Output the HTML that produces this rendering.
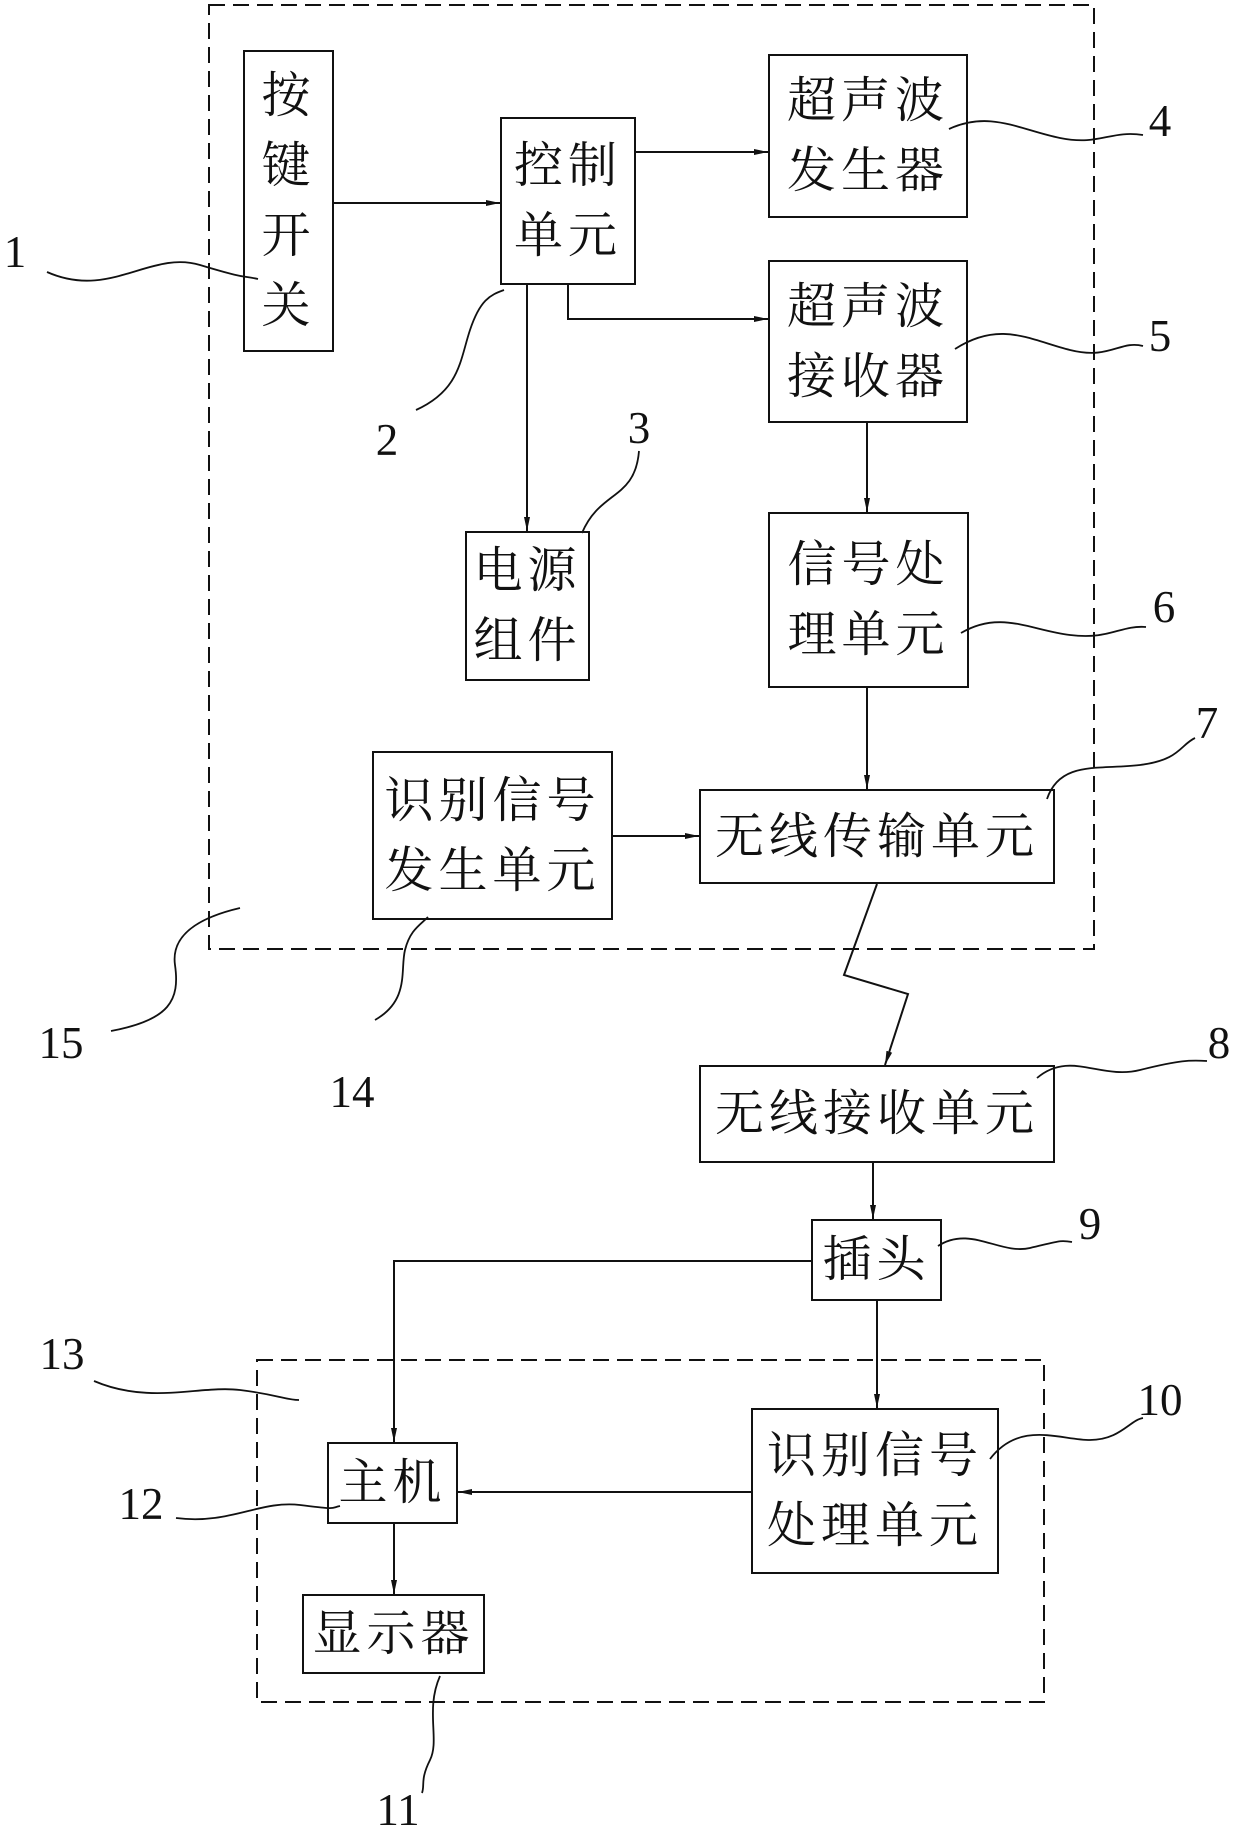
<!DOCTYPE html>
<html><head><meta charset="utf-8"><style>
body{margin:0;background:#fff;width:1240px;height:1834px;position:relative;overflow:hidden}
.b{position:absolute;border:2px solid #111;box-sizing:border-box;display:flex;align-items:center;justify-content:center;text-align:center;font-family:"Liberation Serif","Noto Serif CJK SC",serif;font-size:49px;line-height:70px;letter-spacing:5px;color:#111}
.n{position:absolute;font-family:"Liberation Serif",serif;font-size:45px;color:#111;transform:translate(-50%,-50%)}
svg{position:absolute;left:0;top:0}
</style></head><body>
<svg width="1240" height="1834" fill="none" stroke="#111" stroke-width="2">
<defs><marker id="a" markerWidth="14" markerHeight="8" refX="14" refY="4" orient="auto" markerUnits="userSpaceOnUse"><path d="M0,1 L14,4 L0,7 Z" fill="#111" stroke="none"/></marker></defs>
<rect x="209" y="5" width="885" height="944" stroke-dasharray="16,8"/>
<rect x="257" y="1360" width="787" height="342" stroke-dasharray="16,8"/>
<path d="M334,203 H500" marker-end="url(#a)"/>
<path d="M636,152 H768" marker-end="url(#a)"/>
<path d="M568,285 V319 H768" marker-end="url(#a)"/>
<path d="M527,285 V531" marker-end="url(#a)"/>
<path d="M867,423 V512" marker-end="url(#a)"/>
<path d="M867,688 V789" marker-end="url(#a)"/>
<path d="M613,836 H699" marker-end="url(#a)"/>
<path d="M877,884 L844,975 L908,994 L885,1065" marker-end="url(#a)"/>
<path d="M873,1163 V1219" marker-end="url(#a)"/>
<path d="M811,1261 H394 V1442" marker-end="url(#a)"/>
<path d="M877,1301 V1408" marker-end="url(#a)"/>
<path d="M751,1492 H458" marker-end="url(#a)"/>
<path d="M394,1524 V1594" marker-end="url(#a)"/>
<g stroke-width="1.8">
<path d="M47,272 C110,300 150,250 200,265 S240,275 258,279"/>
<path d="M416,410 C460,390 460,360 470,330 S490,295 504,290"/>
<path d="M639,451 C635,500 600,490 582,533"/>
<path d="M949,129 C990,110 1020,130 1060,138 S1110,130 1143,135"/>
<path d="M955,349 C1000,320 1030,340 1070,350 S1120,340 1143,346"/>
<path d="M961,633 C1000,610 1030,630 1070,635 S1120,625 1146,627"/>
<path d="M1047,799 C1060,760 1100,770 1140,765 S1180,745 1195,738"/>
<path d="M1037,1078 C1070,1050 1100,1080 1140,1070 S1190,1060 1207,1061"/>
<path d="M938,1246 C970,1225 1000,1255 1030,1248 S1060,1240 1072,1242"/>
<path d="M990,1459 C1020,1420 1060,1440 1090,1440 S1130,1420 1143,1418"/>
<path d="M440,1676 C425,1710 440,1740 430,1760 S425,1785 422,1793"/>
<path d="M176,1518 C230,1525 260,1500 300,1505 S330,1508 340,1506"/>
<path d="M94,1381 C150,1405 200,1385 240,1390 S285,1400 299,1400"/>
<path d="M375,1020 C410,1000 400,970 405,950 S420,925 428,917"/>
<path d="M111,1031 C170,1020 180,1000 175,965 S210,915 240,908"/>
</g>
</svg>
<div class="b" style="left:243px;top:50px;width:91px;height:302px;line-height:70px">按<br>键<br>开<br>关</div>
<div class="b" style="left:500px;top:117px;width:136px;height:168px">控制<br>单元</div>
<div class="b" style="left:768px;top:54px;width:200px;height:164px">超声波<br>发生器</div>
<div class="b" style="left:768px;top:260px;width:200px;height:163px">超声波<br>接收器</div>
<div class="b" style="left:465px;top:531px;width:125px;height:150px">电源<br>组件</div>
<div class="b" style="left:768px;top:512px;width:201px;height:176px">信号处<br>理单元</div>
<div class="b" style="left:372px;top:751px;width:241px;height:169px">识别信号<br>发生单元</div>
<div class="b" style="left:699px;top:789px;width:356px;height:95px">无线传输单元</div>
<div class="b" style="left:699px;top:1065px;width:356px;height:98px">无线接收单元</div>
<div class="b" style="left:811px;top:1219px;width:131px;height:82px">插头</div>
<div class="b" style="left:327px;top:1442px;width:131px;height:82px">主机</div>
<div class="b" style="left:751px;top:1408px;width:248px;height:166px">识别信号<br>处理单元</div>
<div class="b" style="left:302px;top:1594px;width:183px;height:80px">显示器</div>
<div class="n" style="left:15px;top:252px">1</div>
<div class="n" style="left:387px;top:440px">2</div>
<div class="n" style="left:639px;top:428px">3</div>
<div class="n" style="left:1160px;top:121px">4</div>
<div class="n" style="left:1160px;top:336px">5</div>
<div class="n" style="left:1164px;top:607px">6</div>
<div class="n" style="left:1207px;top:723px">7</div>
<div class="n" style="left:1219px;top:1043px">8</div>
<div class="n" style="left:1090px;top:1224px">9</div>
<div class="n" style="left:1160px;top:1400px">10</div>
<div class="n" style="left:398px;top:1810px">11</div>
<div class="n" style="left:141px;top:1504px">12</div>
<div class="n" style="left:62px;top:1354px">13</div>
<div class="n" style="left:352px;top:1092px">14</div>
<div class="n" style="left:61px;top:1043px">15</div>
</body></html>
